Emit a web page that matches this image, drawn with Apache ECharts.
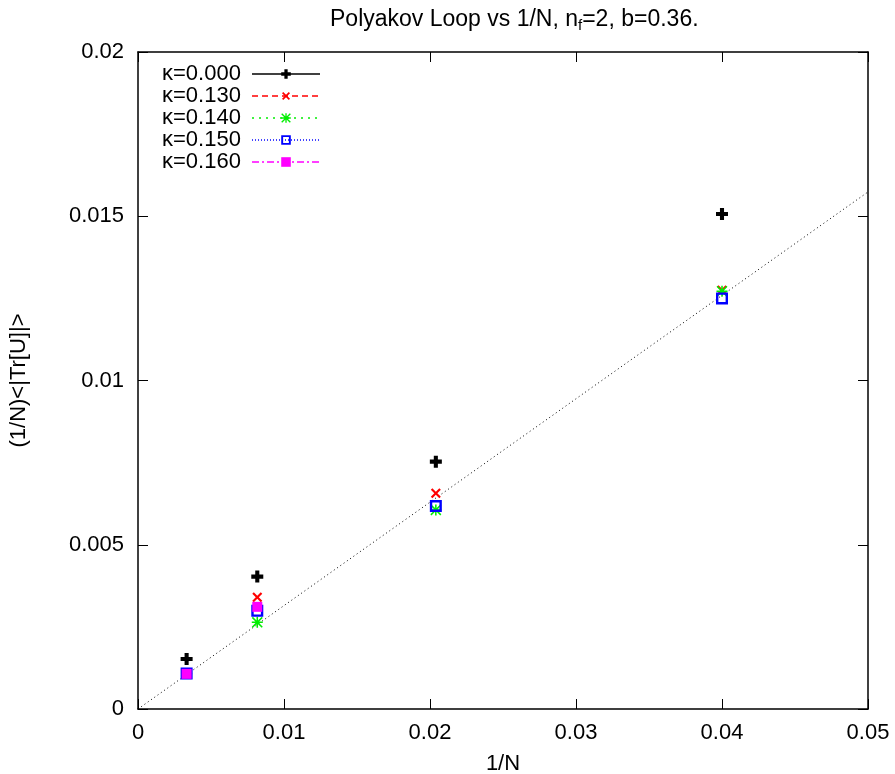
<!DOCTYPE html>
<html>
<head>
<meta charset="utf-8">
<script src="https://cdn.jsdelivr.net/npm/echarts@6/dist/echarts.min.js"></script>
<style>html,body{margin:0;padding:0;background:#fff}#c{width:895px;height:774px}</style>
</head>
<body>
<div id="c"></div>
<script>
// 1/N values
const invN = [0.00333, 0.00817, 0.0204, 0.0400];
// (1/N)<|Tr[U]|> for each kappa
const k000 = [0.00152, 0.00403, 0.00753, 0.01507];
const k130 = [0.00108, 0.00340, 0.00657, 0.01275];
const k140 = [0.00108, 0.00264, 0.00606, 0.01272];
const k150 = [0.00108, 0.00299, 0.00618, 0.01250];
const k160 = [0.00107, 0.00311];
const seriesNames = ['κ=0.000', 'κ=0.130', 'κ=0.140', 'κ=0.150', 'κ=0.160'];
// reference line endpoints
const refX = [0, 0.05];
const refY = [0, 0.01574];
const xTicks = [0, 0.01, 0.02, 0.03, 0.04, 0.05];
const yTicks = [0, 0.005, 0.01, 0.015, 0.02];

const FONT = "'Liberation Sans', Arial, Helvetica, sans-serif";
const FS = 22;
const pair = (xs, ys) => ys.map((y, i) => [xs[i], y]);

const PLUS = 'path://M3.3,0H6.7V3.3H10V6.7H6.7V10H3.3V6.7H0V3.3H3.3Z';
const XS = 'path://M4.1,0H5.9V4.1H10V5.9H5.9V10H4.1V5.9H0V4.1H4.1Z';
const STAR = 'path://M1,0L5,4L9,0L10,1L6,5L10,9L9,10L5,6L1,10L0,9L4,5L0,1Z M4.3,0H5.7V10H4.3Z M0,4.3H10V5.7H0Z';
const HSQ = 'path://M0,0H10V10H0Z M2,2V8H8V2Z';

const styles = [
  {color:'#000000', symbol: PLUS, size: 12, rot: 0, dash: 'solid'},
  {color:'#ff0000', symbol: XS, size: 12, rot: 45, dash: [6,4]},
  {color:'#00ee00', symbol: STAR, size: 11, rot: 0, dash: [2,5]},
  {color:'#0000ff', symbol: HSQ, size: 12, rot: 0, dash: [1,2]},
  {color:'#ff00ff', symbol: 'rect', size: 10, rot: 0, dash: [7,3,2,3]}
];
const dataSets = [k000, k130, k140, k150, k160];

const axisLine = {show: true, onZero: false, lineStyle: {color: '#000', width: 1.5}};
const tick = {show: true, inside: true, length: 10, lineStyle: {color: '#000', width: 1}};

const series = [{
  type: 'line', name: 'ref', data: pair(refX, refY), symbol: 'none', silent: true,
  lineStyle: {color: '#000', width: 1, type: [1, 3]}, z: 1
}];
dataSets.forEach((d, i) => {
  const s = styles[i];
  series.push({
    type: 'line', name: seriesNames[i], data: pair(invN, d),
    symbol: s.symbol, symbolSize: s.size, symbolRotate: s.rot, showSymbol: true,
    itemStyle: {color: s.color},
    lineStyle: {opacity: 0, color: s.color},
    z: 2 + i
  });
});

const option = {
  animation: false,
  backgroundColor: '#fff',
  title: {
    text: 'Polyakov Loop vs 1/N, n{s|f}=2, b=0.36.',
    left: 325, top: 2,
    textStyle: {fontFamily: FONT, fontSize: 23, fontWeight: 'normal', color: '#000',
      rich: {s: {fontFamily: FONT, fontSize: 15, verticalAlign: 'bottom', padding: [11, 0, 0, 0], color: '#000'}}}
  },
  legend: {
    orient: 'vertical', left: 157, top: 58, align: 'right',
    itemWidth: 68, itemHeight: 12, itemGap: 0,
    formatter: n => n + ' ',
    textStyle: {fontFamily: FONT, fontSize: FS, color: '#000'},
    data: seriesNames.map((n, i) => ({
      name: n,
      lineStyle: {color: styles[i].color, opacity: 1, width: 1.5, type: styles[i].dash}
    }))
  },
  grid: {left: 138, right: 27, top: 52, bottom: 65, outerBoundsMode: 'none', containLabel: false},
  xAxis: [{
    type: 'value', min: 0, max: 0.05, interval: 0.01, position: 'bottom',
    name: '1/N', nameLocation: 'middle', nameGap: 44,
    nameTextStyle: {fontFamily: FONT, fontSize: FS, color: '#000'},
    axisLine, axisTick: tick, splitLine: {show: false},
    axisLabel: {fontFamily: FONT, fontSize: FS, color: '#000', margin: 13,
      formatter: v => String(xTicks.find(t => Math.abs(t - v) < 1e-9) ?? v)}
  }, {
    type: 'value', min: 0, max: 0.05, interval: 0.01, position: 'top',
    axisLine, axisTick: tick, splitLine: {show: false}, axisLabel: {show: false}
  }],
  yAxis: [{
    type: 'value', min: 0, max: 0.02, interval: 0.005, position: 'left',
    name: '(1/N)<|Tr[U]|>', nameLocation: 'middle', nameGap: 108, nameRotate: 90,
    nameTextStyle: {fontFamily: FONT, fontSize: FS, color: '#000'},
    axisLine, axisTick: tick, splitLine: {show: false},
    axisLabel: {fontFamily: FONT, fontSize: FS, color: '#000', margin: 14,
      formatter: v => String(yTicks.find(t => Math.abs(t - v) < 1e-9) ?? v)}
  }, {
    type: 'value', min: 0, max: 0.02, interval: 0.005, position: 'right',
    axisLine, axisTick: tick, splitLine: {show: false}, axisLabel: {show: false}
  }],
  series
};
const chart = echarts.init(document.getElementById('c'), null, {renderer: 'canvas'});
chart.setOption(option);
</script>
</body>
</html>
